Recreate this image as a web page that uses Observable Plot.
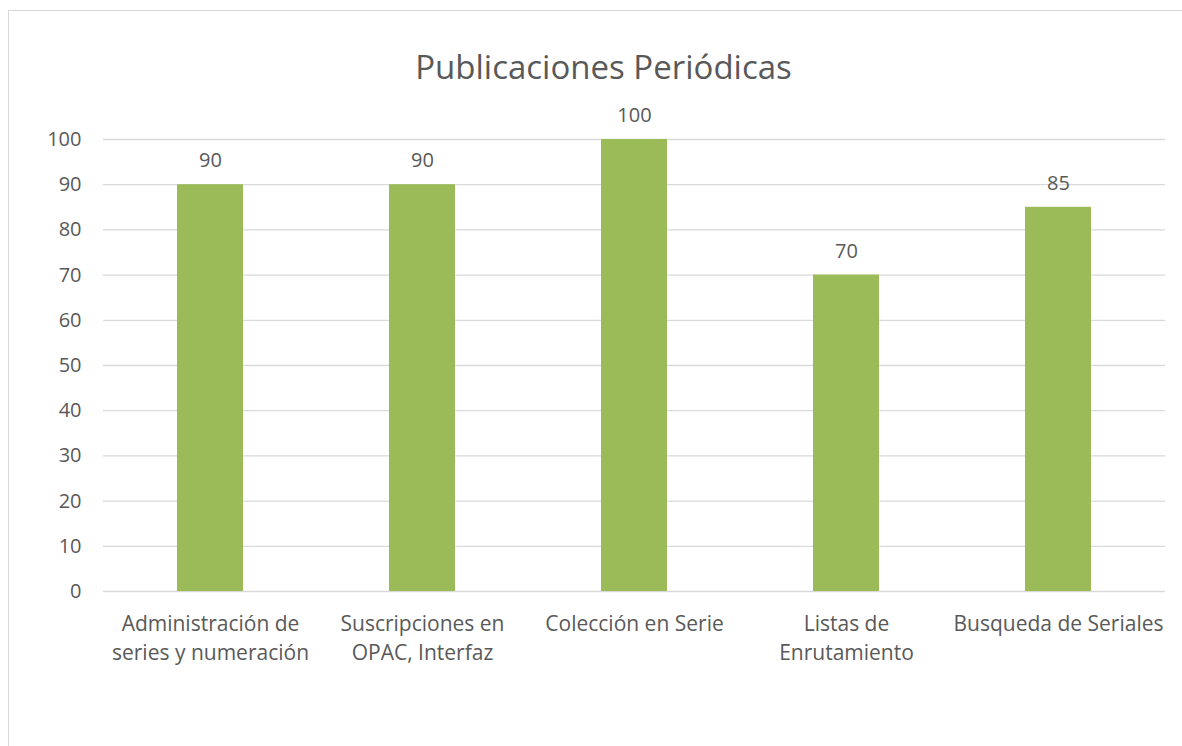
<!DOCTYPE html>
<html>
<head>
<meta charset="utf-8">
<script src="https://cdn.jsdelivr.net/npm/d3@7"></script>
<script src="https://cdn.jsdelivr.net/npm/@observablehq/plot@0.6"></script>
<style>
  html, body { margin: 0; padding: 0; background: #fff; overflow: hidden; }
  #wrap { position: relative; width: 1182px; height: 746px; }
  #border { position: absolute; left: 8px; top: 10px; width: 1300px; height: 900px; border: 1px solid #d9d9d9; box-sizing: border-box; }
  #chart { position: absolute; left: 0; top: 0; }
</style>
</head>
<body>
<div id="wrap"><div id="border"></div><div id="chart"></div></div>
<script>
const title = "Publicaciones Periódicas";
const categories = [
  "Administración de\nseries y numeración",
  "Suscripciones en\nOPAC, Interfaz",
  "Colección en Serie",
  "Listas de\nEnrutamiento",
  "Busqueda de Seriales"
];
const values = [90, 90, 100, 70, 85];
const yTicks = [0, 10, 20, 30, 40, 50, 60, 70, 80, 90, 100];

const data = categories.map((c, i) => ({category: c, value: values[i]}));
const font = "'Open Sans', 'Noto Sans', sans-serif";
const textColor = "#595959";

const chart = Plot.plot({
  width: 1182,
  height: 746,
  marginLeft: 103,
  marginRight: 17,
  marginTop: 139,
  marginBottom: 155,
  style: {fontFamily: font, color: textColor, background: "transparent"},
  x: {domain: categories, paddingInner: 0.687, paddingOuter: 0.3435, label: null},
  y: {domain: [0, 100], label: null},
  marks: [
    Plot.gridY(yTicks, {stroke: "#d9d9d9", strokeOpacity: 1, strokeWidth: 1.3}),
    Plot.barY(data, {x: "category", y: "value", fill: "#9bbb59"}),
    Plot.axisY(yTicks, {tickSize: 0, tickPadding: 22, fontSize: 20, fill: textColor, label: null}),
    Plot.axisX({tickSize: 0, tickPadding: 19, fontSize: 21, fill: textColor, lineHeight: 1.38, label: null}),
    Plot.text(data, {x: "category", y: "value", text: d => String(d.value), dy: -24, fontSize: 20, fill: textColor}),
    Plot.text([title], {frameAnchor: "top", dx: -31, dy: -84, fontSize: 33, fill: textColor, text: d => d})
  ]
});
document.getElementById("chart").appendChild(chart);
</script>
</body>
</html>
